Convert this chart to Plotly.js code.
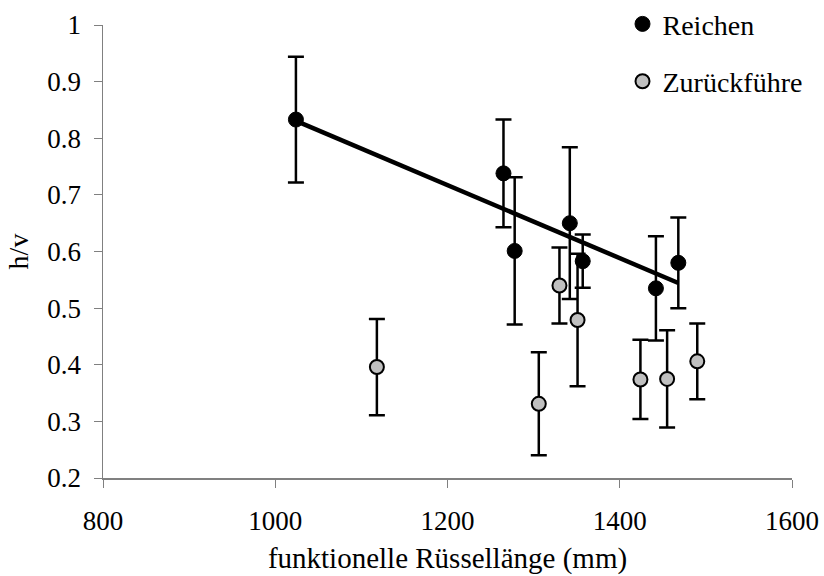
<!DOCTYPE html>
<html>
<head>
<meta charset="utf-8">
<script src="https://cdn.plot.ly/plotly-3.0.1.min.js"></script>
<style>html,body{margin:0;padding:0;background:#fff;}#chart{width:824px;height:576px;}</style>
</head>
<body>
<div id="chart"></div>
<script>
// Reichen (black)
const reichenX = [1024, 1265, 1278, 1342, 1357, 1442, 1468];
const reichenY = [0.833, 0.738, 0.601, 0.650, 0.583, 0.535, 0.580];
const reichenErr = [0.111, 0.095, 0.130, 0.134, 0.047, 0.092, 0.080];
// Zurückführe (grey)
const zurueckX = [1118, 1306, 1330, 1351, 1424, 1455, 1490];
const zurueckY = [0.396, 0.331, 0.540, 0.479, 0.374, 0.375, 0.406];
const zurueckErr = [0.085, 0.091, 0.067, 0.117, 0.070, 0.086, 0.067];
const seriesNames = ["Reichen", "Zurückführe"];
const xTicks = [800, 1000, 1200, 1400, 1600];
const yTicks = [0.2, 0.3, 0.4, 0.5, 0.6, 0.7, 0.8, 0.9, 1];

// linear trend fit of Reichen series
function linfit(xs, ys) {
  const n = xs.length;
  const mx = xs.reduce((a, b) => a + b, 0) / n;
  const my = ys.reduce((a, b) => a + b, 0) / n;
  let sxy = 0, sxx = 0;
  for (let i = 0; i < n; i++) { sxy += (xs[i] - mx) * (ys[i] - my); sxx += (xs[i] - mx) ** 2; }
  const b = sxy / sxx;
  return { a: my - b * mx, b: b };
}
const fit = linfit(reichenX, reichenY);
const fx = [Math.min(...reichenX), Math.max(...reichenX)];
const fy = fx.map(x => fit.a + fit.b * x);

const FONT = "Liberation Serif";

const traces = [
  {
    x: reichenX, y: reichenY, type: "scatter", mode: "markers", name: seriesNames[0],
    legendgroup: "a",
    marker: { color: "#000", size: 15, line: { color: "#000", width: 1 } },
    error_y: { type: "data", array: reichenErr, visible: true, color: "#000", thickness: 2.5, width: 8 }
  },
  {
    x: zurueckX, y: zurueckY, type: "scatter", mode: "markers", name: seriesNames[1],
    legendgroup: "b",
    marker: { color: "#c0c0c0", size: 14, line: { color: "#000", width: 2 } },
    error_y: { type: "data", array: zurueckErr, visible: true, color: "#000", thickness: 2.5, width: 8 }
  },
  {
    x: fx, y: fy, type: "scatter", mode: "lines", showlegend: false, hoverinfo: "skip",
    line: { color: "#000", width: 4.5 }
  }
];

const layout = {
  width: 824, height: 576,
  margin: { l: 102.5, r: 31.5, t: 24.7, b: 98.3, autoexpand: false },
  paper_bgcolor: "#fff", plot_bgcolor: "#fff",
  font: { family: FONT, size: 27, color: "#000" },
  showlegend: true,
  legend: {
    x: 0.754, xanchor: "left", y: 1.057, yanchor: "top",
    font: { family: FONT, size: 28, color: "#000" },
    traceorder: "grouped", tracegroupgap: 18,
    bgcolor: "rgba(0,0,0,0)"
  },
  xaxis: {
    range: [800, 1600], tickvals: xTicks, ticktext: xTicks.map(String),
    showgrid: false, zeroline: false, showline: true, linecolor: "#808080", linewidth: 1.5,
    ticks: "outside", ticklen: 8, tickcolor: "#808080", tickwidth: 1,
    ticklabelstandoff: 10,
    tickfont: { family: FONT, size: 27, color: "#000" },
    title: { text: "funktionelle Rüssellänge (mm)", font: { family: FONT, size: 29, color: "#000" }, standoff: 13 }
  },
  yaxis: {
    range: [0.2, 1], tickvals: yTicks, ticktext: yTicks.map(v => String(v)),
    showgrid: false, zeroline: false, showline: true, linecolor: "#808080", linewidth: 1.5,
    ticks: "outside", ticklen: 8, tickcolor: "#808080", tickwidth: 1,
    ticklabelstandoff: 7,
    tickfont: { family: FONT, size: 27, color: "#000" },
    title: { text: "h/v", font: { family: FONT, size: 28, color: "#000" }, standoff: 10 }
  }
};

Plotly.newPlot("chart", traces, layout, { displayModeBar: false, staticPlot: true });
</script>
</body>
</html>
